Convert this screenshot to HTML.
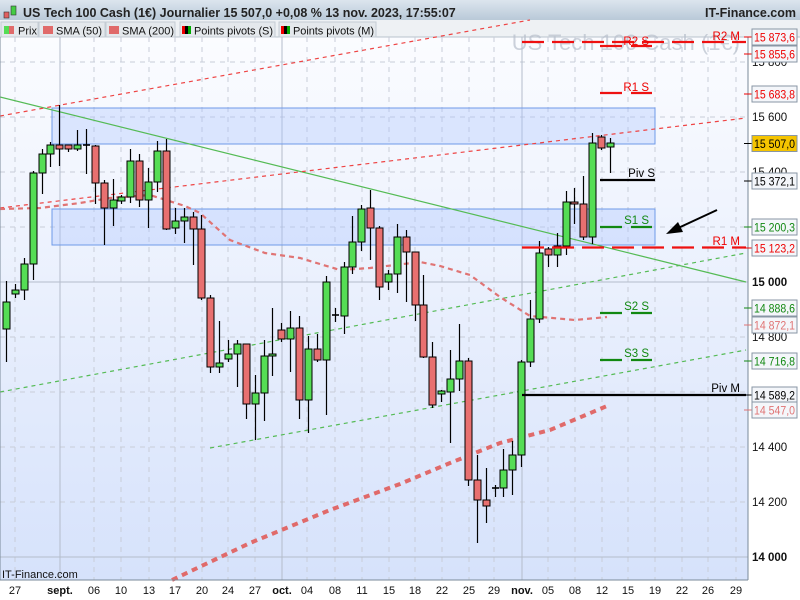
<!DOCTYPE html>
<html><head><meta charset="utf-8"><style>
body{margin:0;width:800px;height:600px;overflow:hidden;background:#fff;font-family:"Liberation Sans",sans-serif}
svg{display:block}
</style></head><body>
<svg id="s" width="800" height="600" xmlns="http://www.w3.org/2000/svg" font-family="Liberation Sans, sans-serif">
<defs>
<linearGradient id="bg" x1="0" y1="0" x2="0" y2="1"><stop offset="0" stop-color="#fbfcff"/><stop offset="1" stop-color="#d6e2fb"/></linearGradient>
<linearGradient id="hd" x1="0" y1="0" x2="0" y2="1"><stop offset="0" stop-color="#dce5ee"/><stop offset="1" stop-color="#b9c9d8"/></linearGradient>
</defs>
<rect x="0" y="37" width="748" height="543" fill="url(#bg)"/>
<rect x="748" y="37" width="52" height="563" fill="#fff"/>
<rect x="0" y="580" width="748" height="20" fill="#fff"/>
<rect x="0" y="0" width="800" height="20" fill="url(#hd)"/>
<rect x="0" y="20" width="800" height="17" fill="#eef1f4"/>
<line x1="0" y1="37" x2="800" y2="37" stroke="#b8c2cc"/>
<rect x="4" y="12" width="5" height="6" fill="#e06060" stroke="#333" stroke-width=".6"/>
<rect x="11" y="6" width="5" height="9" fill="#44cc44" stroke="#333" stroke-width=".6"/>
<text x="23" y="17" font-size="12.5" font-weight="bold" fill="#222">US Tech 100 Cash (1€) Journalier 15 507,0 +0,08 % 13 nov. 2023, 17:55:07</text>
<text x="796" y="17" font-size="12.5" font-weight="bold" fill="#222" text-anchor="end">IT-Finance.com</text>
<g font-size="11" fill="#111">
<rect x="1" y="22" width="37" height="15" fill="#e4e8ec" stroke="#c4ccd4"/><rect x="4" y="26" width="5" height="8" fill="#55dd55"/><rect x="9" y="26" width="5" height="8" fill="#e06a6a"/><text x="18" y="34.5">Prix</text>
<rect x="39" y="22" width="66" height="15" fill="#e4e8ec" stroke="#c4ccd4"/><rect x="43" y="26" width="10" height="8" fill="#e06a6a"/><text x="56" y="34.5" textLength="46">SMA (50)</text>
<rect x="106" y="22" width="69" height="15" fill="#e4e8ec" stroke="#c4ccd4"/><rect x="109" y="26" width="10" height="8" fill="#e06a6a"/><text x="122" y="34.5" textLength="52">SMA (200)</text>
<rect x="180" y="22" width="95" height="15" fill="#e4e8ec" stroke="#c4ccd4"/><rect x="182" y="26" width="3" height="8" fill="#e00"/><rect x="185" y="26" width="3" height="8" fill="#000"/><rect x="188" y="26" width="3" height="8" fill="#0a0"/><text x="194" y="34.5" textLength="79">Points pivots (S)</text>
<rect x="279" y="22" width="97" height="15" fill="#e4e8ec" stroke="#c4ccd4"/><rect x="281" y="26" width="3" height="8" fill="#e00"/><rect x="284" y="26" width="3" height="8" fill="#000"/><rect x="287" y="26" width="3" height="8" fill="#0a0"/><text x="293" y="34.5" textLength="81">Points pivots (M)</text>
</g>
<g stroke="#c8cdd8" stroke-dasharray="5,5">
<line x1="15" y1="37" x2="15" y2="580"/><line x1="94" y1="37" x2="94" y2="580"/><line x1="121" y1="37" x2="121" y2="580"/><line x1="149" y1="37" x2="149" y2="580"/><line x1="175" y1="37" x2="175" y2="580"/><line x1="202" y1="37" x2="202" y2="580"/><line x1="228" y1="37" x2="228" y2="580"/><line x1="255" y1="37" x2="255" y2="580"/><line x1="307" y1="37" x2="307" y2="580"/><line x1="335" y1="37" x2="335" y2="580"/><line x1="362" y1="37" x2="362" y2="580"/><line x1="389" y1="37" x2="389" y2="580"/><line x1="415" y1="37" x2="415" y2="580"/><line x1="442" y1="37" x2="442" y2="580"/><line x1="469" y1="37" x2="469" y2="580"/><line x1="494" y1="37" x2="494" y2="580"/><line x1="548" y1="37" x2="548" y2="580"/><line x1="575" y1="37" x2="575" y2="580"/><line x1="602" y1="37" x2="602" y2="580"/><line x1="628" y1="37" x2="628" y2="580"/><line x1="655" y1="37" x2="655" y2="580"/><line x1="682" y1="37" x2="682" y2="580"/><line x1="708" y1="37" x2="708" y2="580"/><line x1="736" y1="37" x2="736" y2="580"/>
<line x1="0" y1="62" x2="748" y2="62"/><line x1="0" y1="117" x2="748" y2="117"/><line x1="0" y1="172" x2="748" y2="172"/><line x1="0" y1="227" x2="748" y2="227"/><line x1="0" y1="337" x2="748" y2="337"/><line x1="0" y1="392" x2="748" y2="392"/><line x1="0" y1="447" x2="748" y2="447"/><line x1="0" y1="502" x2="748" y2="502"/>
</g>
<g stroke="#b4bccb"><line x1="60" y1="37" x2="60" y2="580"/><line x1="282" y1="37" x2="282" y2="580"/><line x1="522" y1="37" x2="522" y2="580"/><line x1="0" y1="282" x2="748" y2="282"/><line x1="0" y1="557" x2="748" y2="557"/></g>
<text x="740" y="50" font-size="22" fill="#b8c0cc" opacity=".7" text-anchor="end">US Tech 100 Cash (1€)</text>
<rect x="52" y="108" width="603" height="36" fill="#a8c4ff" fill-opacity=".35" stroke="#6f9ae8"/>
<rect x="52" y="209" width="603" height="36" fill="#a8c4ff" fill-opacity=".35" stroke="#6f9ae8"/>
<line x1="0" y1="97" x2="746" y2="282" stroke="#55bb55" stroke-width="1.2"/>
<line x1="0" y1="116" x2="530" y2="20" stroke="#ee4444" stroke-dasharray="4,4" stroke-width="1.2"/>
<line x1="0" y1="208" x2="746" y2="118" stroke="#ee4444" stroke-dasharray="4,4" stroke-width="1.2"/>
<line x1="0" y1="392" x2="746" y2="253" stroke="#55bb55" stroke-dasharray="4,4" stroke-width="1.2"/>
<line x1="210" y1="448" x2="746" y2="350" stroke="#55bb55" stroke-dasharray="4,4" stroke-width="1.2"/>
<polyline fill="none" stroke="#e07474" stroke-width="2.2" stroke-dasharray="5,4" points="0,209 40,208 80,203 110,198 150,195 185,206 200,213 230,240 265,253 300,258 340,270 370,268 420,262 440,266 470,275 500,297 530,316 575,320 607,317"/>
<polyline fill="none" stroke="#e06a6a" stroke-width="4" stroke-dasharray="6,5" points="172,580 250,543 330,510 400,484 450,463 500,443 550,430 607,406"/>
<g id="c"></g>
<g stroke-width="2.2">
<line x1="522" y1="42" x2="746" y2="42" stroke="#ee1111" stroke-dasharray="22,8"/>
<line x1="522" y1="247.5" x2="746" y2="247.5" stroke="#ee1111" stroke-dasharray="22,8"/>
<line x1="522" y1="395" x2="746" y2="395" stroke="#000"/>
<line x1="600" y1="46" x2="652" y2="46" stroke="#ee1111" stroke-dasharray="22,9"/>
<line x1="600" y1="93" x2="652" y2="93" stroke="#ee1111" stroke-dasharray="22,9"/>
<line x1="600" y1="180" x2="655" y2="180" stroke="#000"/>
<line x1="600" y1="227" x2="652" y2="227" stroke="#118811" stroke-dasharray="22,9"/>
<line x1="600" y1="313" x2="652" y2="313" stroke="#118811" stroke-dasharray="22,9"/>
<line x1="600" y1="360" x2="652" y2="360" stroke="#118811" stroke-dasharray="22,9"/>
</g>
<g font-size="11.5">
<text x="740" y="40" fill="#e00" text-anchor="end">R2 M</text>
<text x="649" y="45" fill="#e00" text-anchor="end">R2 S</text>
<text x="649" y="91" fill="#e00" text-anchor="end">R1 S</text>
<text x="655" y="177" fill="#000" text-anchor="end">Piv S</text>
<text x="649" y="224" fill="#118811" text-anchor="end">S1 S</text>
<text x="740" y="245" fill="#e00" text-anchor="end">R1 M</text>
<text x="649" y="310" fill="#118811" text-anchor="end">S2 S</text>
<text x="649" y="357" fill="#118811" text-anchor="end">S3 S</text>
<text x="740" y="392" fill="#000" text-anchor="end">Piv M</text>
</g>
<line x1="717" y1="210" x2="676" y2="229" stroke="#000" stroke-width="2"/>
<polygon points="666,234 678,222 683,232" fill="#000"/>
<text x="2" y="578" font-size="11" fill="#111">IT-Finance.com</text>
<line x1="748" y1="37" x2="748" y2="580" stroke="#7a8a9a"/>
<line x1="0" y1="580" x2="748" y2="580" stroke="#7a8a9a"/>
<line x1="0" y1="37" x2="0" y2="580" stroke="#7a8a9a"/>
<g font-size="11.5" fill="#111">
<text x="752" y="66">15 800</text><text x="752" y="121">15 600</text><text x="752" y="176">15 400</text>
<text x="752" y="286" font-weight="bold">15 000</text><text x="752" y="341">14 800</text>
<text x="752" y="451">14 400</text><text x="752" y="506">14 200</text><text x="752" y="561" font-weight="bold">14 000</text>
</g>
<g id="ax" font-size="11.5"></g>
<g font-size="11" fill="#111" text-anchor="middle">
<text x="15" y="594">27</text><text x="60" y="594" font-weight="bold">sept.</text><text x="94" y="594">06</text><text x="121" y="594">10</text><text x="149" y="594">13</text><text x="175" y="594">17</text><text x="202" y="594">20</text><text x="228" y="594">24</text><text x="255" y="594">27</text><text x="282" y="594" font-weight="bold">oct.</text><text x="307" y="594">04</text><text x="335" y="594">08</text><text x="362" y="594">11</text><text x="389" y="594">15</text><text x="415" y="594">18</text><text x="442" y="594">22</text><text x="469" y="594">25</text><text x="494" y="594">29</text><text x="522" y="594" font-weight="bold">nov.</text><text x="548" y="594">05</text><text x="575" y="594">08</text><text x="602" y="594">12</text><text x="628" y="594">15</text><text x="655" y="594">19</text><text x="682" y="594">22</text><text x="708" y="594">26</text><text x="736" y="594">29</text>
</g>
</svg>
<script>
var d=[[302,329,281,362,'g'],[290,294,284,298,'g'],[264,290,258,300,'g'],[173,264,171,280,'g'],[154,173,149,194,'g'],[145,154,142,167,'g'],[145,149,105,166,'r'],[145,149,145,152,'r'],[145,149,130,151,'g'],[145,146,129,174,'k'],[146,183,145,204,'r'],[183,208,180,245,'r'],[200,208,179,226,'g'],[197,201,195,204,'g'],[161,197,149,203,'g'],[161,200,154,207,'r'],[182,200,168,228,'g'],[151,182,141,192,'g'],[151,229,139,230,'r'],[221,228,208,234,'g'],[217,221,208,243,'g'],[217,229,212,265,'r'],[229,298,215,300,'r'],
[298,367,295,373,'r'],[363,367,321,373,'g'],[354,359,340,362,'g'],[344,354,340,387,'g'],[344,404,344,419,'r'],[393,404,375,440,'g'],[356,393,340,421,'g'],[354,356,308,376,'g'],[330,339,323,342,'r'],[328,339,311,372,'g'],[328,400,316,419,'r'],[349,400,336,433,'g'],[349,360,334,362,'r'],[282,360,276,415,'g'],[315,315,308,322,'k'],[267,316,262,334,'g'],[242,267,216,274,'g'],[209,242,205,251,'g'],[208,228,190,260,'r'],[228,287,226,300,'r'],
[274,282,270,290,'g'],[237,274,224,293,'g'],[237,252,230,302,'r'],[252,305,252,321,'r'],[305,357,275,358,'r'],[357,405,342,408,'r'],[391,394,390,402,'g'],[379,392,350,443,'g'],[361,379,324,391,'g'],[361,480,358,486,'r'],[480,500,455,543,'r'],[500,506,468,523,'r'],[488,488,485,497,'k'],[470,488,449,497,'g'],[455,470,441,495,'g'],[362,455,360,467,'g'],[319,362,300,367,'g'],[253,319,241,323,'g'],
[249,255,247,267,'r'],[246,255,233,267,'g'],[202,246,191,255,'g'],[202,204,188,224,'r'],[204,237,176,240,'r'],[143,237,133,244,'g'],[137,148,135,150,'r'],[143,147,138,173,'g']];
var g=document.getElementById('c'),h='';
var col={g:'#55dd55',r:'#e87070',k:'#000'};
d.forEach(function(c,i){var x=6+i*8.882;x=Math.round(x)+.5;
h+='<line x1="'+x+'" y1="'+c[2]+'" x2="'+x+'" y2="'+c[3]+'" stroke="#000" stroke-width="1.2"/>';
var hh=Math.max(c[1]-c[0],1);
if(c[4]=='k')h+='<line x1="'+(x-3.5)+'" y1="'+c[0]+'" x2="'+(x+3.5)+'" y2="'+c[0]+'" stroke="#000" stroke-width="1.6"/>';
else h+='<rect x="'+(x-3.5)+'" y="'+c[0]+'" width="7" height="'+hh+'" fill="'+col[c[4]]+'" stroke="#000" stroke-width="1"/>';});
g.innerHTML=h;
var L=[[37,'15 873,6','#e00','#f4f6fa'],[54,'15 855,6','#e00','#f4f6fa'],[94,'15 683,8','#e00','#f4f6fa'],[143.5,'15 507,0','#000','#f5c400'],[181,'15 372,1','#000','#f4f6fa'],[227,'15 200,3','#118811','#f4f6fa'],[248,'15 123,2','#e00','#f4f6fa'],[308,'14 888,6','#118811','#f4f6fa'],[325,'14 872,1','#e07474','#f4f6fa'],[361,'14 716,8','#118811','#f4f6fa'],[395,'14 589,2','#000','#f4f6fa'],[410,'14 547,0','#e07474','#f4f6fa']];
var a='';L.forEach(function(l){a+='<line x1="744" y1="'+l[0]+'" x2="752" y2="'+l[0]+'" stroke="'+l[2]+'"/><rect x="752" y="'+(l[0]-8)+'" width="45" height="16" fill="'+l[3]+'" stroke="#8896a4"/><text x="754" y="'+(l[0]+4.5)+'" fill="'+l[2]+'" textLength="41" lengthAdjust="spacingAndGlyphs">'+l[1]+'</text>';});
document.getElementById('ax').innerHTML=a;
</script>
</body></html>
